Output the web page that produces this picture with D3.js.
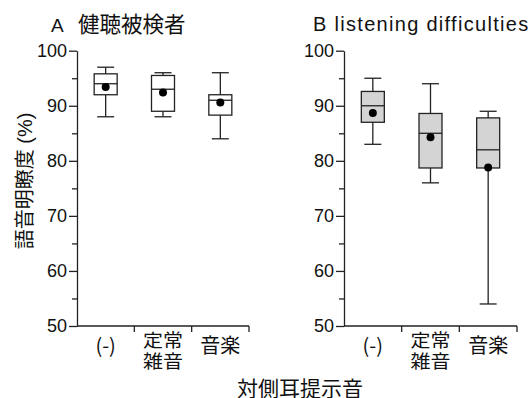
<!DOCTYPE html>
<html>
<head>
<meta charset="utf-8">
<script src="https://cdn.jsdelivr.net/npm/d3@7"></script>
<style>
  body { margin: 0; background: #fff; }
  svg { display: block; font-family: "Liberation Sans", Arial, "Noto Sans CJK JP", sans-serif; }
</style>
</head>
<body>
<svg width="532" height="398"></svg>
<script>
// categories on the x axis (each one can have two lines)
var categories = [["(-)"], ["定常", "雑音"], ["音楽"]];
var yTicks = [50, 60, 70, 80, 90, 100];
var yMinorTicks = [55, 65, 75, 85, 95];

// A: normal hearing subjects
var normalMin = [88, 88, 84];
var normalQ1 = [92, 89, 88.3];
var normalMedian = [94, 93, 91];
var normalQ3 = [95.8, 95.5, 92];
var normalMax = [97, 96, 96];
var normalMean = [93.4, 92.4, 90.6];

// B: listening difficulties
var diffMin = [83, 76, 54];
var diffQ1 = [87, 78.7, 78.7];
var diffMedian = [90, 85, 82];
var diffQ3 = [92.6, 88.6, 87.8];
var diffMax = [95, 94, 89];
var diffMean = [88.7, 84.3, 78.8];

var svg = d3.select("svg");
var ink = "#222";
var cjk = "'Noto Sans CJK JP', sans-serif";

var y = d3.scaleLinear().domain([50, 100]).range([326, 50.7]);

function makeRows(mins, q1s, meds, q3s, maxs, means) {
  return categories.map(function(c, i) {
    return { key: i, min: mins[i], q1: q1s[i], med: meds[i], q3: q3s[i], max: maxs[i], mean: means[i] };
  });
}

function drawPanel(x0, x1, rows, fill) {
  var g = svg.append("g");
  var x = d3.scaleBand().domain(d3.range(categories.length)).range([x0, x1]);
  var boxW = 23, capW = 17;

  // y axis: major ticks with labels, minor ticks without
  g.append("g")
    .attr("transform", "translate(" + x0 + ",0)")
    .call(d3.axisLeft(y).tickValues(yTicks).tickSize(8).tickPadding(2).tickSizeOuter(0))
    .call(function(a) {
      a.select(".domain").attr("stroke", ink).attr("stroke-width", 1.3);
      a.selectAll(".tick line").attr("stroke", ink).attr("stroke-width", 1.3);
      a.selectAll("text").attr("fill", "#111").style("font-size", "18px")
        .style("font-family", "'Liberation Sans', Arial, sans-serif");
    });
  g.append("g")
    .attr("transform", "translate(" + x0 + ",0)")
    .call(d3.axisLeft(y).tickValues(yMinorTicks).tickSize(5).tickFormat("").tickSizeOuter(0))
    .call(function(a) {
      a.select(".domain").remove();
      a.selectAll(".tick line").attr("stroke", ink).attr("stroke-width", 1.3);
    });

  // x axis: baseline with ticks at category boundaries
  g.append("line")
    .attr("x1", x0).attr("x2", x1)
    .attr("y1", y(50)).attr("y2", y(50))
    .attr("stroke", ink).attr("stroke-width", 1.3);
  g.selectAll("line.sep")
    .data(d3.range(1, categories.length + 1))
    .enter().append("line")
    .attr("class", "sep")
    .attr("x1", function(d) { return x0 + d * x.bandwidth(); })
    .attr("x2", function(d) { return x0 + d * x.bandwidth(); })
    .attr("y1", y(50)).attr("y2", y(50) + 6)
    .attr("stroke", ink).attr("stroke-width", 1.3);

  // category labels; two-line labels are squeezed a bit vertically
  categories.forEach(function(lines, i) {
    var cx = x(i) + x.bandwidth() / 2;
    if (lines.length == 1) {
      g.append("text")
        .attr("x", cx).attr("y", 353)
        .attr("text-anchor", "middle")
        .attr("fill", "#111")
        .style("font-size", "20px")
        .style("font-family", cjk)
        .text(lines[0]);
    } else {
      lines.forEach(function(l, j) {
        var base = 347 + j * 21;
        g.append("text")
          .attr("transform", "translate(" + cx + "," + base + ") scale(1,0.9)")
          .attr("text-anchor", "middle")
          .attr("fill", "#111")
          .style("font-size", "20px")
          .style("font-family", cjk)
          .text(l);
      });
    }
  });

  // boxes
  var box = g.selectAll("g.box")
    .data(rows)
    .enter().append("g")
    .attr("class", "box")
    .attr("transform", function(d) { return "translate(" + (x(d.key) + x.bandwidth() / 2) + ",0)"; });

  box.append("line")
    .attr("x1", 0).attr("x2", 0)
    .attr("y1", function(d) { return y(d.max); })
    .attr("y2", function(d) { return y(d.min); })
    .attr("stroke", ink).attr("stroke-width", 1.3);
  box.append("line")
    .attr("x1", -capW / 2).attr("x2", capW / 2)
    .attr("y1", function(d) { return y(d.max); })
    .attr("y2", function(d) { return y(d.max); })
    .attr("stroke", ink).attr("stroke-width", 1.3);
  box.append("line")
    .attr("x1", -capW / 2).attr("x2", capW / 2)
    .attr("y1", function(d) { return y(d.min); })
    .attr("y2", function(d) { return y(d.min); })
    .attr("stroke", ink).attr("stroke-width", 1.3);
  box.append("rect")
    .attr("x", -boxW / 2).attr("width", boxW)
    .attr("y", function(d) { return y(d.q3); })
    .attr("height", function(d) { return y(d.q1) - y(d.q3); })
    .attr("fill", fill).attr("stroke", ink).attr("stroke-width", 1.3);
  box.append("line")
    .attr("x1", -boxW / 2).attr("x2", boxW / 2)
    .attr("y1", function(d) { return y(d.med); })
    .attr("y2", function(d) { return y(d.med); })
    .attr("stroke", ink).attr("stroke-width", 1.3);
  box.append("circle")
    .attr("cx", 0)
    .attr("cy", function(d) { return y(d.mean); })
    .attr("r", 4)
    .attr("fill", "#000");
}

drawPanel(77, 249, makeRows(normalMin, normalQ1, normalMedian, normalQ3, normalMax, normalMean), "#fff");
drawPanel(344, 517, makeRows(diffMin, diffQ1, diffMedian, diffQ3, diffMax, diffMean), "#d4d4d4");

// panel titles
var titleA = svg.append("text")
  .attr("x", 51).attr("y", 32)
  .attr("fill", "#111");
titleA.append("tspan").style("font-size", "19px").text("A");
titleA.append("tspan").attr("x", 78).style("font-size", "21.5px")
  .style("font-family", cjk).text("健聴被検者");

svg.append("text")
  .attr("x", 313).attr("y", 31)
  .attr("fill", "#111")
  .style("font-size", "20px")
  .style("letter-spacing", "1.3px")
  .text("B listening difficulties");

// y axis title
svg.append("text")
  .attr("transform", "translate(32,181) rotate(-90)")
  .attr("text-anchor", "middle")
  .attr("fill", "#111")
  .style("font-size", "20px")
  .text("語音明瞭度 (%)");

// x axis title (sits at the very bottom edge, as in the original)
svg.append("text")
  .attr("x", 300).attr("y", 396)
  .attr("text-anchor", "middle")
  .attr("fill", "#111")
  .style("font-size", "21px")
  .style("font-family", cjk)
  .text("対側耳提示音");
</script>
</body>
</html>
